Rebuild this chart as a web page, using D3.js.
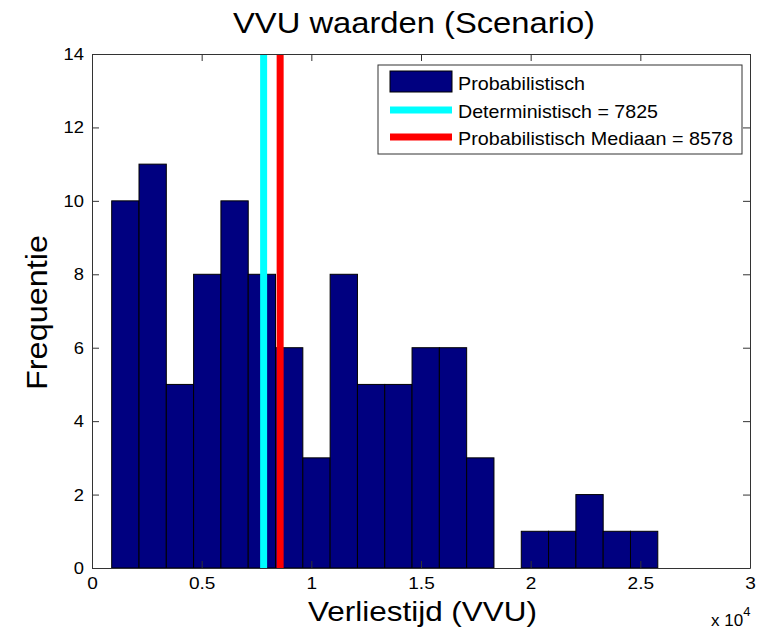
<!DOCTYPE html>
<html><head><meta charset="utf-8">
<script src="https://cdn.jsdelivr.net/npm/d3@7"></script>
<style>body{margin:0;background:#fff}svg{display:block}text{font-family:"Liberation Sans",Arial,sans-serif}</style>
</head><body><div id="chart"></div>
<script>
const counts = [10,11,5,8,10,8,6,3,8,5,5,6,6,3,0,1,1,2,1,1];
const binRange = [898, 25796];
const deterministisch = 7825;
const mediaan = 8578;
const xTicks = [0,0.5,1,1.5,2,2.5,3];
const yTicks = [0,2,4,6,8,10,12,14];
const legendLabels = ["Probabilistisch","Deterministisch = 7825","Probabilistisch Mediaan = 8578"];

const W=763,H=638, L=92, R=750, T=54, B=568;
const svg=d3.select("#chart").append("svg").attr("width",W).attr("height",H);
const x=d3.scaleLinear().domain([0,30000]).range([L,R]);
const y=d3.scaleLinear().domain([0,14]).range([B,T]);
const bw=(binRange[1]-binRange[0])/counts.length;
const bins=counts.map((c,i)=>({x0:binRange[0]+i*bw,x1:binRange[0]+(i+1)*bw,c}));

function stretch(sel,k){sel.each(function(){const w=this.getComputedTextLength();d3.select(this).attr("textLength",w*k).attr("lengthAdjust","spacingAndGlyphs");});}

svg.selectAll("rect.bar").data(bins.filter(d=>d.c>0)).join("rect").attr("class","bar")
 .attr("x",d=>x(d.x0)).attr("width",d=>x(d.x1)-x(d.x0))
 .attr("y",d=>y(d.c)).attr("height",d=>y(0)-y(d.c))
 .attr("fill","#000080").attr("stroke","#000").attr("stroke-width",1);

svg.append("line").attr("x1",x(deterministisch)).attr("x2",x(deterministisch)).attr("y1",T).attr("y2",B)
 .attr("stroke","#00ffff").attr("stroke-width",7);
svg.append("line").attr("x1",x(mediaan)).attr("x2",x(mediaan)).attr("y1",T).attr("y2",B)
 .attr("stroke","#ff0000").attr("stroke-width",7);

// axes
const axCol="#333";
const tl=7;
const gx=svg.append("g").attr("transform",`translate(0,${B})`).call(d3.axisBottom(x).tickValues(xTicks.map(v=>v*1e4)).tickFormat((d,i)=>String(xTicks[i])).tickSizeInner(-tl).tickSizeOuter(0).tickPadding(10));
const gxt=svg.append("g").attr("transform",`translate(0,${T})`).call(d3.axisTop(x).tickValues(xTicks.map(v=>v*1e4)).tickFormat("").tickSizeInner(-tl).tickSizeOuter(0));
const gy=svg.append("g").attr("transform",`translate(${L},0)`).call(d3.axisLeft(y).tickValues(yTicks).tickSizeInner(-tl).tickSizeOuter(0).tickPadding(8));
const gyr=svg.append("g").attr("transform",`translate(${R},0)`).call(d3.axisRight(y).tickValues(yTicks).tickFormat("").tickSizeInner(-tl).tickSizeOuter(0));
[gx,gxt,gy,gyr].forEach(g=>{g.select(".domain").attr("stroke",axCol);g.selectAll(".tick line").attr("stroke",axCol);
 g.selectAll("text").attr("font-size",17).attr("fill","#000").style("font-family","Liberation Sans, Arial, sans-serif");});
gx.selectAll("text").attr("y",21).attr("dy",null);
stretch(gx.selectAll("text"),1.12);
stretch(gy.selectAll("text"),1.08);

// title & labels
const title=svg.append("text").attr("x",233).attr("y",33).attr("font-size",30).text("VVU waarden (Scenario)");
title.attr("textLength",362).attr("lengthAdjust","spacingAndGlyphs");
const xl=svg.append("text").attr("x",308).attr("y",621).attr("font-size",28).text("Verliestijd (VVU)");
xl.attr("textLength",229).attr("lengthAdjust","spacingAndGlyphs");
const yl=svg.append("text").attr("transform",`translate(47,390) rotate(-90)`).attr("font-size",30).text("Frequentie");
yl.attr("textLength",155).attr("lengthAdjust","spacingAndGlyphs");
const ex=svg.append("text").attr("x",711).attr("y",626).attr("font-size",17);
ex.append("tspan").text("x 10");
ex.append("tspan").attr("dy",-10).attr("font-size",13).text("4");

// legend
const lg=svg.append("g");
lg.append("rect").attr("x",378).attr("y",65).attr("width",364).attr("height",89).attr("fill","#fff").attr("stroke","#333").attr("stroke-width",1);
const rows=[82,110,137];
lg.append("rect").attr("x",390).attr("y",71).attr("width",62).attr("height",21).attr("fill","#000080").attr("stroke","#000");
lg.append("line").attr("x1",390).attr("x2",452).attr("y1",rows[1]).attr("y2",rows[1]).attr("stroke","#00ffff").attr("stroke-width",7);
lg.append("line").attr("x1",390).attr("x2",452).attr("y1",rows[2]).attr("y2",rows[2]).attr("stroke","#ff0000").attr("stroke-width",7);
const legW=[127,200,275];
legendLabels.forEach((t,i)=>lg.append("text").attr("x",458).attr("y",rows[i]+7.5).attr("font-size",19).text(t)
  .attr("textLength",legW[i]).attr("lengthAdjust","spacingAndGlyphs"));
</script></body></html>
